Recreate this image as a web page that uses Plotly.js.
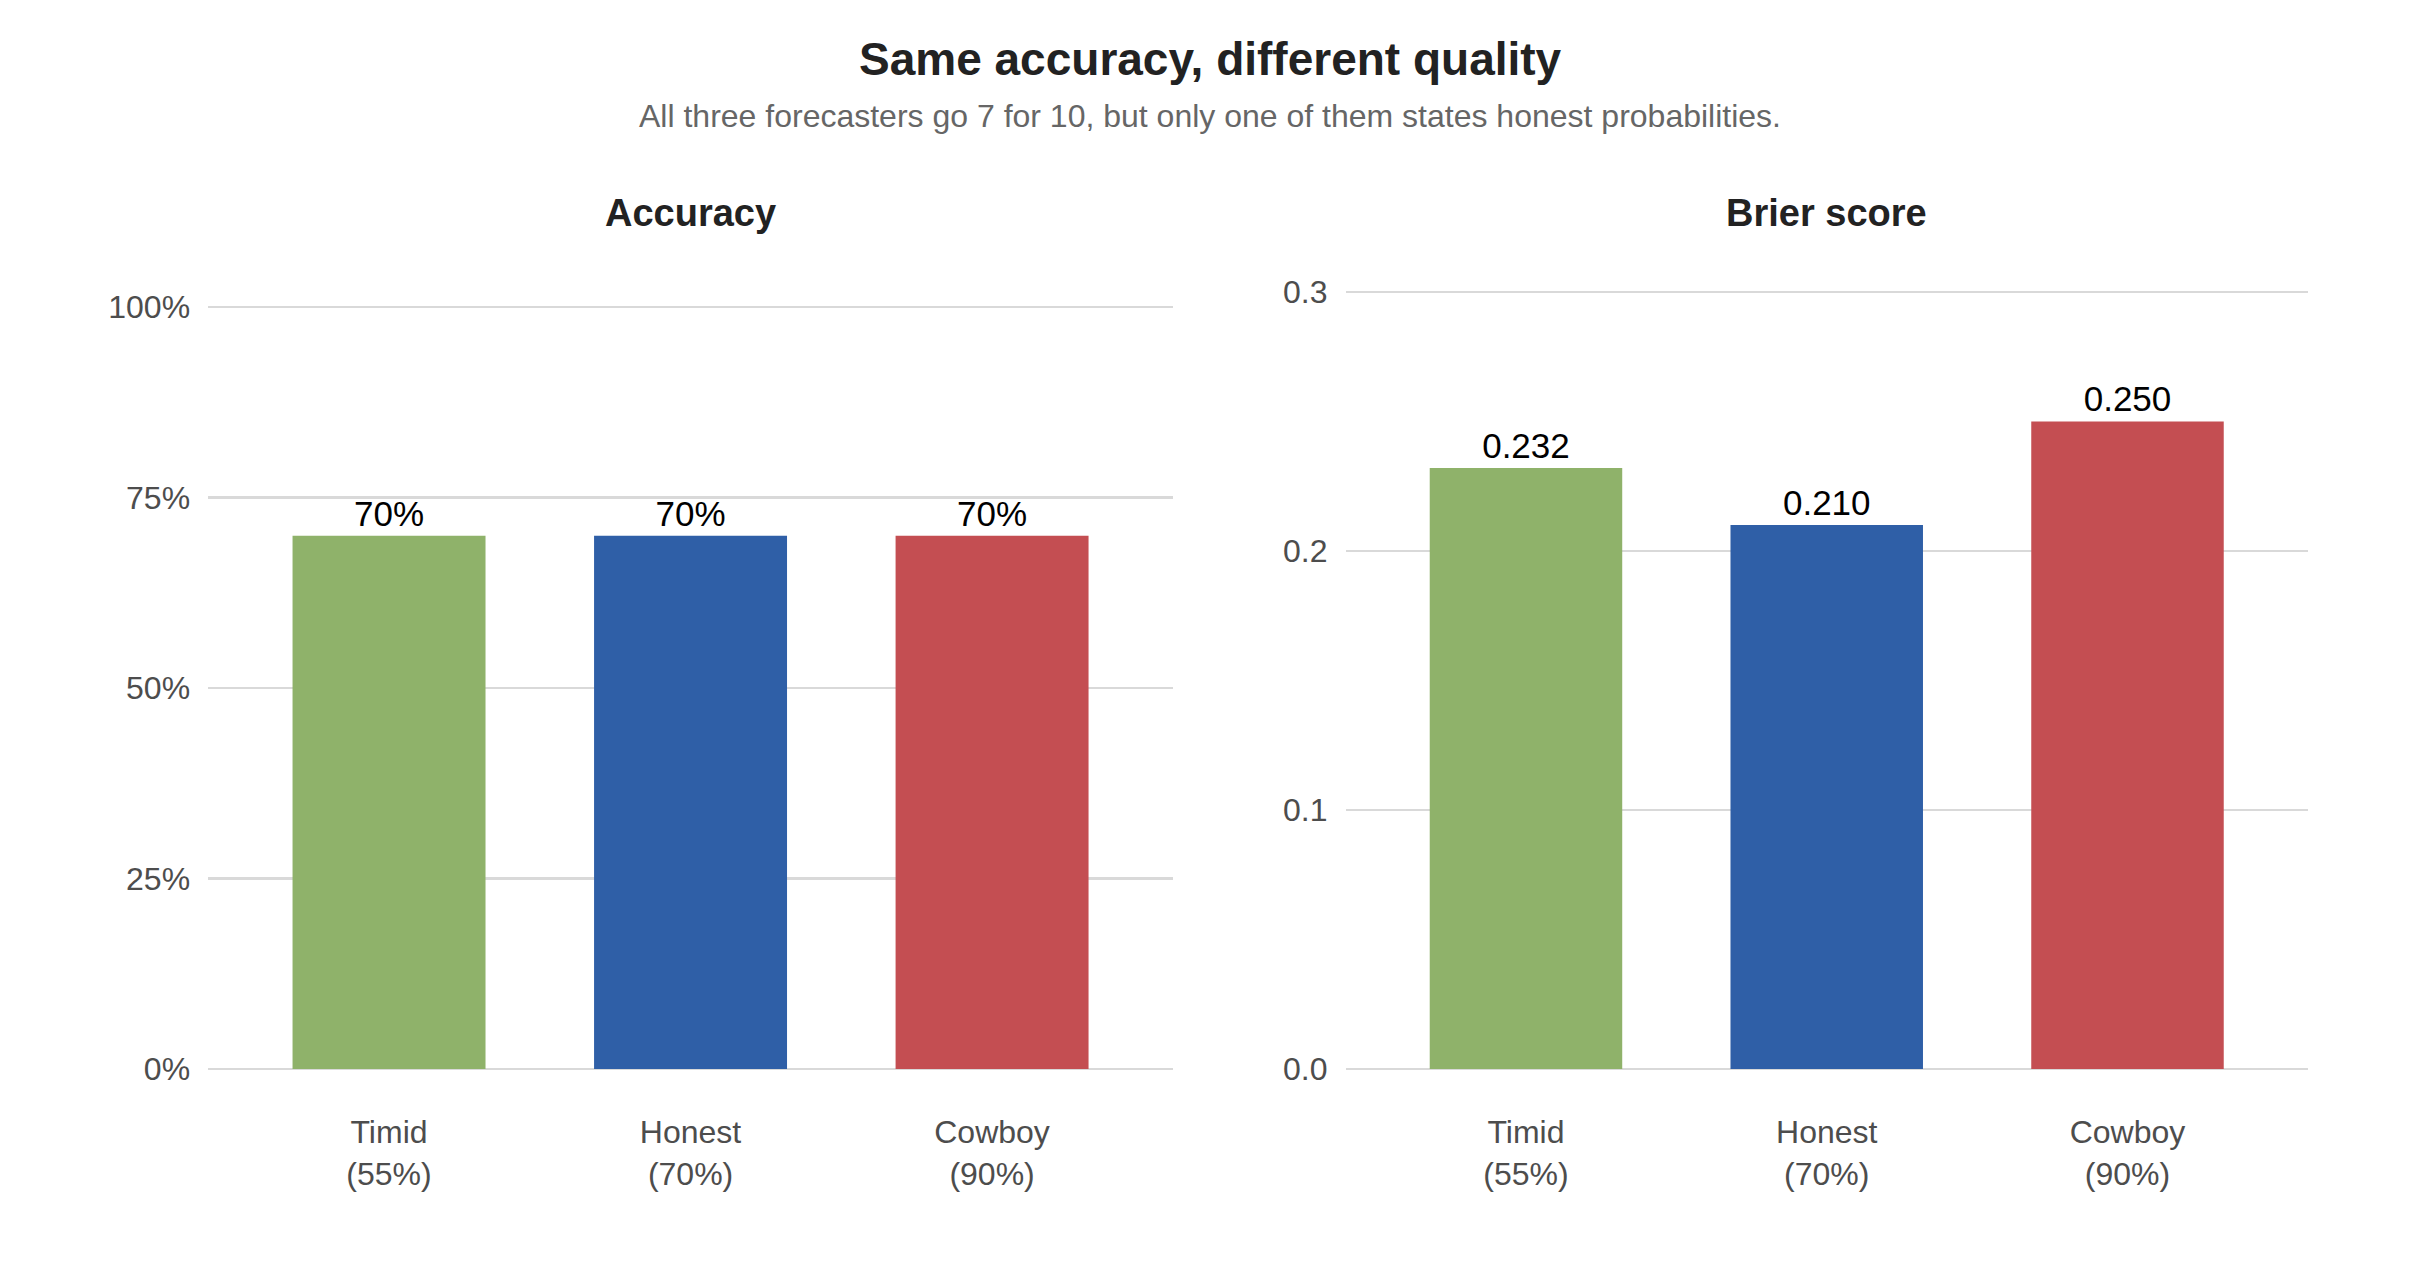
<!DOCTYPE html>
<html>
<head>
<meta charset="utf-8">
<script src="https://cdn.plot.ly/plotly-3.0.1.min.js"></script>
<style>
  html, body { margin: 0; padding: 0; background: #fff; }
  #chart { width: 2420px; height: 1276px; }
</style>
</head>
<body>
<div id="chart"></div>
<script>
// forecasters and what they say
const forecasters = ['Timid', 'Honest', 'Cowboy'];
const statedProb = ['55%', '70%', '90%'];
const accuracy = [0.70, 0.70, 0.70];
const brier = [0.232, 0.210, 0.250];
const barColors = ['#8FB26A', '#2F5FA7', '#C44E52'];

const accTicks = [0, 0.25, 0.5, 0.75, 1.0];
const brierTicks = [0, 0.1, 0.2, 0.3];

const fontFam = '"Liberation Sans", Arial, Helvetica, sans-serif';
const gridCol = '#d9d9d9';

let xLabels = forecasters.map((f, i) => f + '<br>(' + statedProb[i] + ')');

const accTrace = {
    x: xLabels,
    y: accuracy,
    type: 'bar',
    width: 0.64,
    marker: {color: barColors},
    text: accuracy.map(v => Math.round(v * 100) + '%'),
    textposition: 'outside',
    textfont: {family: fontFam, size: 35, color: '#000'},
    cliponaxis: false,
    xaxis: 'x',
    yaxis: 'y',
    hoverinfo: 'skip'
}

const brierTrace = {
    x: xLabels,
    y: brier,
    type: 'bar',
    width: 0.64,
    marker: {color: barColors},
    text: brier.map(v => v.toFixed(3)),
    textposition: 'outside',
    textfont: {family: fontFam, size: 35, color: '#000'},
    cliponaxis: false,
    xaxis: 'x2',
    yaxis: 'y2',
    hoverinfo: 'skip'
}

getXAxis = (dom, anchor) => {
    return {
        domain: dom,
        anchor: anchor,
        type: 'category',
        range: [-0.6, 2.6],
        showgrid: false,
        zeroline: false,
        showline: false,
        ticks: '',
        ticklabelstandoff: 41,
        tickfont: {family: fontFam, size: 32, color: '#4d4d4d'},
        fixedrange: true
    }
}

getYAxis = (dom, anchor, range, ticks, fmt) => {
    return {
        domain: dom,
        anchor: anchor,
        range: range,
        tickvals: ticks,
        tickformat: fmt,
        showgrid: true,
        gridcolor: gridCol,
        gridwidth: 2.5,
        zeroline: true,
        zerolinecolor: gridCol,
        zerolinewidth: 2.5,
        showline: false,
        ticks: '',
        ticklabelstandoff: 17,
        tickfont: {family: fontFam, size: 32, color: '#4d4d4d'},
        fixedrange: true
    }
}

const layout = {
    width: 2420,
    height: 1276,
    margin: {l: 0, r: 0, t: 0, b: 0},
    paper_bgcolor: '#fff',
    plot_bgcolor: '#fff',
    showlegend: false,
    font: {family: fontFam},
    xaxis: getXAxis([0.0860, 0.4847], 'y'),
    yaxis: getYAxis([0.1622, 0.7605], 'x', [0, 1.002], accTicks, '.0%'),
    xaxis2: getXAxis([0.5560, 0.9537], 'y2'),
    yaxis2: getYAxis([0.1622, 0.7725], 'x2', [0, 0.3006], brierTicks, '.1f'),
    annotations: [
        {text: '<b>Same accuracy, different quality</b>', xref: 'paper', yref: 'paper',
         x: 0.5, y: 0.954, xanchor: 'center', yanchor: 'middle', showarrow: false,
         font: {family: fontFam, size: 46, color: '#222'}},
        {text: 'All three forecasters go 7 for 10, but only one of them states honest probabilities.',
         xref: 'paper', yref: 'paper', x: 0.5, y: 0.9093, xanchor: 'center', yanchor: 'middle',
         showarrow: false, font: {family: fontFam, size: 32, color: '#666'}},
        {text: '<b>Accuracy</b>', xref: 'paper', yref: 'paper', x: 0.2853, y: 0.833,
         xanchor: 'center', yanchor: 'middle', showarrow: false,
         font: {family: fontFam, size: 38, color: '#222'}},
        {text: '<b>Brier score</b>', xref: 'paper', yref: 'paper', x: 0.7549, y: 0.833,
         xanchor: 'center', yanchor: 'middle', showarrow: false,
         font: {family: fontFam, size: 38, color: '#222'}}
    ]
}

Plotly.newPlot('chart', [accTrace, brierTrace], layout, {displayModeBar: false, staticPlot: true});
</script>
</body>
</html>
